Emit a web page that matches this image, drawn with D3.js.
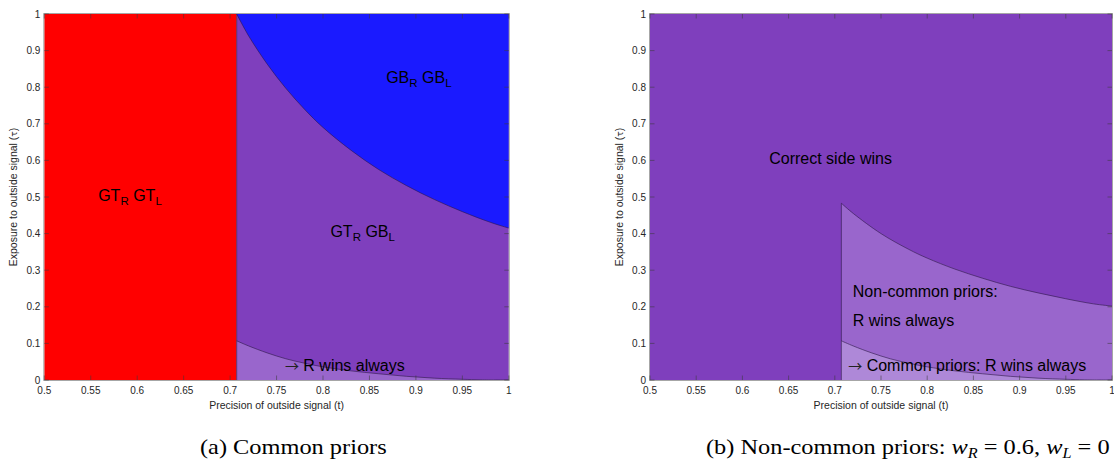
<!DOCTYPE html>
<html>
<head>
<meta charset="utf-8">
<script src="https://cdn.jsdelivr.net/npm/d3@7"></script>
<style>
  html, body { margin: 0; padding: 0; background: #fff; }
  svg { display: block; }
</style>
</head>
<body>
<svg id="chart" width="1114" height="472"></svg>
<script>
// Threshold precision where the good-type region ends
const tStar = 0.7071;

// Boundary (common priors): above it both types are bad
const upperCommon = [
  [0.7071, 1.0], [0.72, 0.94], [0.74, 0.863], [0.76, 0.797], [0.78, 0.74],
  [0.80, 0.69], [0.83, 0.628], [0.86, 0.575], [0.89, 0.531], [0.92, 0.493],
  [0.95, 0.46], [0.98, 0.431], [1.0, 0.415]
];

// Boundary (non-common priors): below it R wins always
const upperNonCommon = [
  [0.7071, 0.483], [0.72, 0.455], [0.75, 0.40], [0.78, 0.357], [0.80, 0.333],
  [0.83, 0.303], [0.86, 0.278], [0.89, 0.256], [0.92, 0.238], [0.95, 0.222],
  [0.98, 0.208], [1.0, 0.202]
];

// Boundary (common priors): below it R wins always
const lowerCommon = [
  [0.7071, 0.107], [0.72, 0.093], [0.74, 0.074], [0.76, 0.058], [0.78, 0.046],
  [0.80, 0.036], [0.83, 0.025], [0.86, 0.017], [0.89, 0.010], [0.92, 0.005],
  [0.95, 0.002], [0.97, 0.0005], [1.0, 0.0]
];

const xTicks = [0.5, 0.55, 0.6, 0.65, 0.7, 0.75, 0.8, 0.85, 0.9, 0.95, 1];
const yTicks = [0, 0.1, 0.2, 0.3, 0.4, 0.5, 0.6, 0.7, 0.8, 0.9, 1];
const xLabelText = "Precision of outside signal (t)";
const yLabelParts = ["Exposure to outside signal (", "\u03C4", ")"];

const colors = {
  red: "#ff0000",
  blue: "#1a1aff",
  purple: "#7f3fbd",
  lilac: "#9966cc",
  pale: "#ae88d8",
  edge: "#2e1748"
};

const svg = d3.select("#chart");
const sansFont = "'Liberation Sans', Arial, Helvetica, sans-serif";
const symFont = "'DejaVu Sans', sans-serif";
const serifFont = "'Liberation Serif', 'DejaVu Serif', serif";

function makePanel(x0, x1) {
  const g = svg.append("g");
  const x = d3.scaleLinear().domain([0.5, 1]).range([x0, x1]);
  const y = d3.scaleLinear().domain([0, 1]).range([380, 14]);
  return { g, x, y };
}

const curve = d3.curveCatmullRom.alpha(0.5);
function areaAbove(p, pts) {
  return d3.area().x(d => p.x(d[0])).y0(p.y(1)).y1(d => p.y(d[1])).curve(curve)(pts);
}
function areaBelow(p, pts) {
  return d3.area().x(d => p.x(d[0])).y0(p.y(0)).y1(d => p.y(d[1])).curve(curve)(pts);
}
function lineOf(p, pts) {
  return d3.line().x(d => p.x(d[0])).y(d => p.y(d[1])).curve(curve)(pts);
}

function rect(p, tA, tB, yA, yB, fill) {
  p.g.append("rect")
    .attr("x", p.x(tA)).attr("y", p.y(yB))
    .attr("width", p.x(tB) - p.x(tA)).attr("height", p.y(yA) - p.y(yB))
    .attr("fill", fill);
}

function edgePath(p, d) {
  p.g.append("path").attr("d", d).attr("fill", "none")
    .attr("stroke", colors.edge).attr("stroke-width", 0.6);
}

function axes(p) {
  const [x0, x1] = p.x.range();
  const yb = p.y(0), yt = p.y(1);
  const ga = p.g.append("g");
  // box
  ga.append("rect").attr("x", x0 - 0.5).attr("y", yt - 0.5)
    .attr("width", x1 - x0 + 1).attr("height", yb - yt + 1)
    .attr("fill", "none").attr("stroke", "#a6a6a6").attr("stroke-width", 1);
  // inward ticks on all four sides
  xTicks.forEach(t => {
    const px = p.x(t);
    ga.append("line").attr("x1", px).attr("x2", px).attr("y1", yb).attr("y2", yb - 4.5)
      .attr("stroke", "#3a3a3a").attr("stroke-opacity", 0.55);
    ga.append("line").attr("x1", px).attr("x2", px).attr("y1", yt).attr("y2", yt + 4.5)
      .attr("stroke", "#3a3a3a").attr("stroke-opacity", 0.55);
    ga.append("text").attr("x", px).attr("y", yb + 14)
      .attr("text-anchor", "middle").attr("font-family", sansFont)
      .attr("font-size", 10).attr("fill", "#262626").text(d3.format("")(t));
  });
  yTicks.forEach(v => {
    const py = p.y(v);
    ga.append("line").attr("x1", x0).attr("x2", x0 + 4.5).attr("y1", py).attr("y2", py)
      .attr("stroke", "#3a3a3a").attr("stroke-opacity", 0.55);
    ga.append("line").attr("x1", x1).attr("x2", x1 - 4.5).attr("y1", py).attr("y2", py)
      .attr("stroke", "#3a3a3a").attr("stroke-opacity", 0.55);
    ga.append("text").attr("x", x0 - 4).attr("y", py + 3.6)
      .attr("text-anchor", "end").attr("font-family", sansFont)
      .attr("font-size", 10).attr("fill", "#262626").text(d3.format("")(v));
  });
  ga.append("text").attr("x", (x0 + x1) / 2).attr("y", 409)
    .attr("text-anchor", "middle").attr("font-family", sansFont)
    .attr("font-size", 10.5).attr("fill", "#262626").text(xLabelText);
  const yl = ga.append("text")
    .attr("transform", `translate(${x0 - 27},${(yb + yt) / 2}) rotate(-90)`)
    .attr("text-anchor", "middle").attr("font-family", sansFont)
    .attr("font-size", 10.5).attr("fill", "#262626");
  yl.append("tspan").text(yLabelParts[0]);
  yl.append("tspan").attr("font-family", symFont).attr("font-size", 9).text(yLabelParts[1]);
  yl.append("tspan").text(yLabelParts[2]);
}

// label with optional subscripts / arrow: parts = [[text, kind], ...]
function label(p, t, v, parts) {
  const txt = p.g.append("text").attr("x", p.x(t)).attr("y", p.y(v))
    .attr("font-family", sansFont).attr("font-size", 16).attr("fill", "#000");
  let down = false;
  parts.forEach(([s, kind]) => {
    const ts = txt.append("tspan").text(s);
    if (kind === "arrow") {
      ts.attr("font-family", "'Noto Sans CJK SC', 'DejaVu Sans', sans-serif")
        .attr("font-size", 14).attr("fill", "#222");
    } else if (kind === "sub") {
      ts.attr("font-size", 11.5);
      if (!down) { ts.attr("dy", 4); down = true; }
    } else if (down) {
      ts.attr("dy", -4); down = false;
    }
  });
}

// ---- Panel (a): common priors ----
const pa = makePanel(44.3, 508.8);
rect(pa, 0.5, tStar, 0, 1, colors.red);
rect(pa, tStar, 1, 0, 1, colors.purple);
pa.g.append("path").attr("d", areaAbove(pa, upperCommon)).attr("fill", colors.blue);
pa.g.append("path").attr("d", areaBelow(pa, lowerCommon)).attr("fill", colors.lilac);
edgePath(pa, lineOf(pa, upperCommon));
edgePath(pa, lineOf(pa, lowerCommon));
edgePath(pa, lineOf(pa, [[tStar, 0], [tStar, 1]]));
axes(pa);
label(pa, 0.558, 0.49, [["GT", ""], ["R", "sub"], [" GT", ""], ["L", "sub"]]);
label(pa, 0.868, 0.811, [["GB", ""], ["R", "sub"], [" GB", ""], ["L", "sub"]]);
label(pa, 0.808, 0.391, [["GT", ""], ["R", "sub"], [" GB", ""], ["L", "sub"]]);
label(pa, 0.759, 0.025, [["\u2192", "arrow"], [" R wins always", ""]]);

// ---- Panel (b): non-common priors ----
const pb = makePanel(650, 1112);
rect(pb, 0.5, 1, 0, 1, colors.purple);
pb.g.append("path").attr("d", areaBelow(pb, upperNonCommon)).attr("fill", colors.lilac);
pb.g.append("path").attr("d", areaBelow(pb, lowerCommon)).attr("fill", colors.pale);
edgePath(pb, lineOf(pb, upperNonCommon));
edgePath(pb, lineOf(pb, lowerCommon));
edgePath(pb, lineOf(pb, [[tStar, 0], upperNonCommon[0]]));
axes(pb);
label(pb, 0.629, 0.590, [["Correct side wins", ""]]);
label(pb, 0.7195, 0.228, [["Non-common priors:", ""]]);
label(pb, 0.7195, 0.148, [["R wins always", ""]]);
label(pb, 0.7145, 0.025, [["\u2192", "arrow"], [" Common priors: R wins always", ""]]);

// ---- Sub-figure captions (slightly widened serif) ----
const capA = svg.append("g").attr("transform", "translate(200,454) scale(1.16,1)")
  .append("text").attr("font-family", serifFont).attr("font-size", 21).attr("fill", "#000");
capA.text("(a) Common priors");

const capB = svg.append("g").attr("transform", "translate(706,454) scale(1.16,1)")
  .append("text").attr("font-family", serifFont).attr("font-size", 21).attr("fill", "#000");
capB.append("tspan").text("(b) Non-common priors: ");
capB.append("tspan").attr("font-style", "italic").text("w");
capB.append("tspan").attr("font-style", "italic").attr("font-size", 14).attr("dy", 4).text("R");
capB.append("tspan").attr("dy", -4).text(" = 0.6, ");
capB.append("tspan").attr("font-style", "italic").text("w");
capB.append("tspan").attr("font-style", "italic").attr("font-size", 14).attr("dy", 4).text("L");
capB.append("tspan").attr("dy", -4).text(" = 0");
</script>
</body>
</html>
